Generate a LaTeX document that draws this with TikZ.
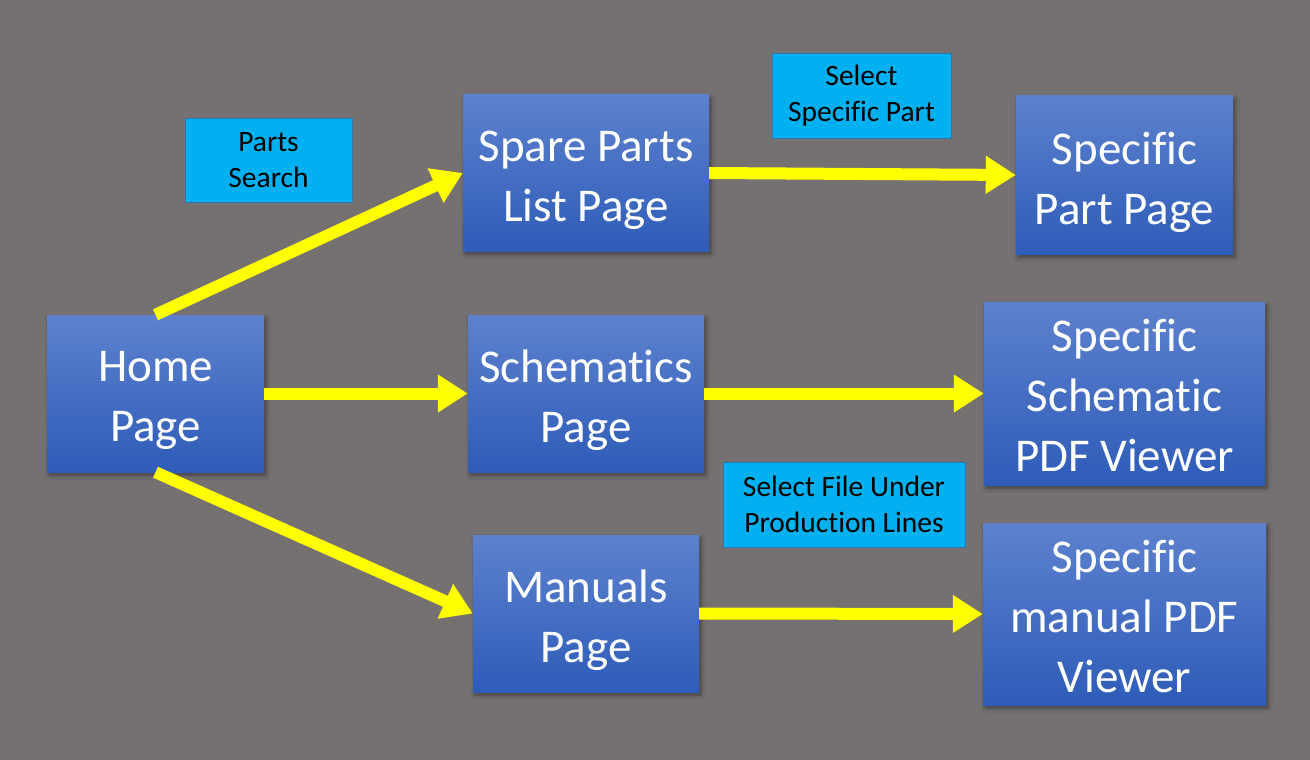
\documentclass[tikz,border=0pt]{standalone}
\usepackage{fontspec}
\setmainfont{Carlito}[Ligatures=NoCommon]
\usetikzlibrary{arrows.meta,shadows.blur}
\definecolor{bg}{HTML}{767171}
\definecolor{boxtop}{HTML}{5D81CE}
\definecolor{boxbot}{HTML}{2E5CB8}
\definecolor{lblfill}{HTML}{00B0F0}
\definecolor{lbledge}{HTML}{2E75B6}
\definecolor{arr}{HTML}{FFFF00}
\tikzset{
  pagebox/.style={rectangle, top color=boxtop, bottom color=boxbot,
    inner sep=0pt,
    blur shadow={shadow xshift=2pt, shadow yshift=-3pt, shadow blur radius=4pt, shadow opacity=45}},
  pagetext/.style={text=white, align=center, inner sep=0pt,
    font=\fontsize{47}{60}\selectfont},
  lblbox/.style={rectangle, fill=lblfill, draw=lbledge, line width=1pt, text=black,
    align=center, inner sep=0pt,
    font=\fontsize{29.5}{36}\selectfont},
  flow/.style={draw=arr, line width=12pt, -{Triangle[length=30pt, width=36pt]}}
}
\begin{document}
\begin{tikzpicture}[x=1pt, y=-1pt]
\fill[bg] (0,0) rectangle (1310,760);
\useasboundingbox (0,0) rectangle (1310,760);

\node[pagebox, minimum width=217pt, minimum height=157pt,
  label={[pagetext, yshift=-7pt]center:{Home\\Page}}] (home) at (155.5,393.5) {};
\node[pagebox, minimum width=246pt, minimum height=156pt,
  label={[pagetext, yshift=-7pt]center:{Spare Parts\\List Page}}] (spare) at (586,173) {};
\node[pagebox, minimum width=236pt, minimum height=157pt,
  label={[pagetext, yshift=-7pt]center:{Schematics\\Page}}] (schem) at (586,393.5) {};
\node[pagebox, minimum width=226pt, minimum height=157pt,
  label={[pagetext, yshift=-7pt]center:{Manuals\\Page}}] (manual) at (586,613.5) {};
\node[pagebox, minimum width=217pt, minimum height=158pt,
  label={[pagetext, yshift=-7pt]center:{Specific\\Part Page}}] (part) at (1124.5,175) {};
\node[pagebox, minimum width=281pt, minimum height=183pt,
  label={[pagetext, yshift=-2pt]center:{Specific\\Schematic\\PDF Viewer}}] (schview) at (1124.5,393.5) {};
\node[pagebox, minimum width=283pt, minimum height=182pt,
  label={[pagetext, yshift=-2pt]center:{Specific\\manual PDF\\Viewer}}] (manview) at (1124.5,614) {};

\node[lblbox, minimum width=167pt, minimum height=84pt] (lsearch) at (268.5,160) {Parts\\Search};
\node[lblbox, minimum width=179pt, minimum height=84pt] (lpart) at (861.5,96) {Select\\Specific Part};
\node[lblbox, minimum width=242pt, minimum height=85pt] (lfile) at (844,504.5) {Select File Under\\Production Lines};

\draw[flow] (home.north) -- (spare.west);
\draw[flow] (home.east) -- (schem.west);
\draw[flow] (home.south) -- (manual.west);
\draw[flow] (spare.east) -- (part.west);
\draw[flow] (schem.east) -- (schview.west);
\draw[flow] (manual.east) -- (manview.west);
\end{tikzpicture}
\end{document}
